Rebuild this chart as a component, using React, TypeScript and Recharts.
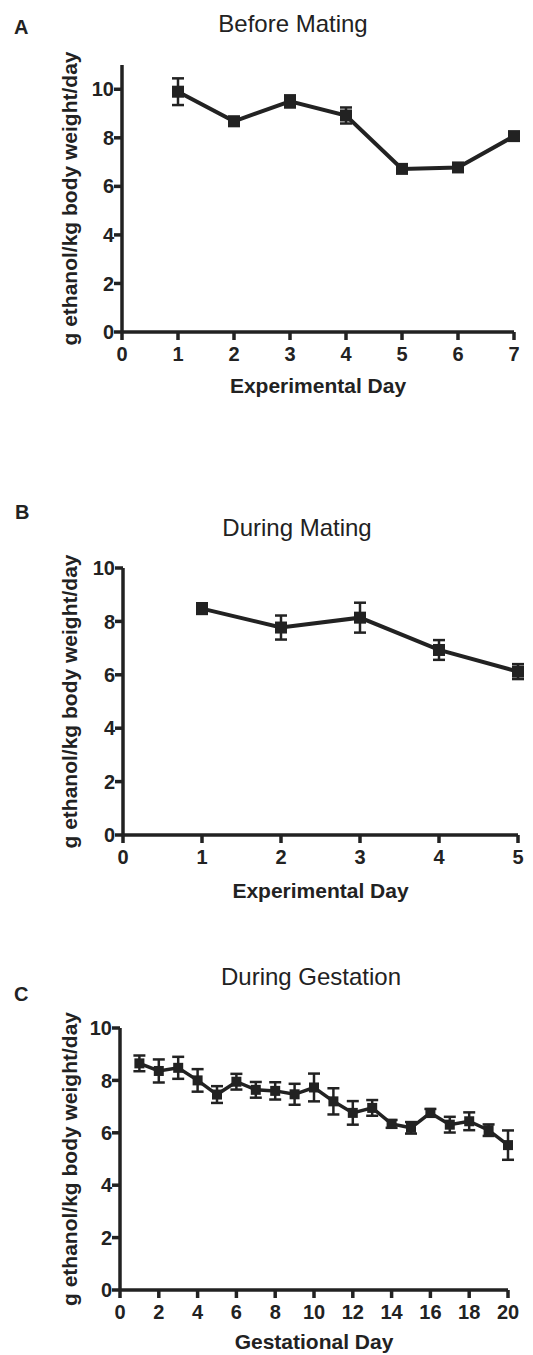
import React from 'react';
import { LineChart, Line, XAxis, YAxis, ErrorBar } from 'recharts';

// Panel A - Before Mating
const daysA = [1, 2, 3, 4, 5, 6, 7];
const meanA = [9.9, 8.68, 9.5, 8.92, 6.72, 6.78, 8.07];
const semA = [0.55, 0.18, 0.25, 0.33, 0.1, 0.1, 0.1];
const ticksA = [0, 1, 2, 3, 4, 5, 6, 7];

// Panel B - During Mating
const daysB = [1, 2, 3, 4, 5];
const meanB = [8.48, 7.77, 8.14, 6.93, 6.12];
const semB = [0.2, 0.45, 0.56, 0.37, 0.28];
const ticksB = [0, 1, 2, 3, 4, 5];

// Panel C - During Gestation
const daysC = [1, 2, 3, 4, 5, 6, 7, 8, 9, 10, 11, 12, 13, 14, 15, 16, 17, 18, 19, 20];
const meanC = [8.65, 8.36, 8.48, 8.0, 7.46, 7.95, 7.64, 7.6, 7.47, 7.73, 7.2, 6.76, 6.95, 6.34, 6.19, 6.76, 6.31, 6.44, 6.1, 5.53];
const semC = [0.3, 0.44, 0.42, 0.43, 0.32, 0.3, 0.3, 0.33, 0.4, 0.53, 0.5, 0.45, 0.3, 0.15, 0.22, 0.15, 0.3, 0.34, 0.22, 0.56];
const ticksC = [0, 2, 4, 6, 8, 10, 12, 14, 16, 18, 20];

const yTicks = [0, 2, 4, 6, 8, 10];
const yLabel = 'g ethanol/kg body weight/day';

const INK = '#222';
const FONT = '"Liberation Sans", Arial, sans-serif';

const toRows = (days: number[], mean: number[], sem: number[]) =>
  days.map((d, i) => ({ day: d, mean: mean[i], sem: sem[i] }));

const squareDot = (size: number) => (props: any) => {
  const { cx, cy, index } = props;
  if (cx == null || cy == null) return <g key={`d-${index}`} />;
  return <rect key={`d-${index}`} x={cx - size / 2} y={cy - size / 2} width={size} height={size} fill={INK} />;
};

type PanelProps = {
  top: number;
  height: number;
  margin: { top: number; right: number; bottom: number; left: number };
  rows: any[];
  xDomain: [number, number];
  xTicks: number[];
  yMax: number;
  xTitle: string;
  xTitleOffset: number;
  yTitleOffset: number;
  xAxisHeight: number;
  dotSize: number;
  lineWidth: number;
};

const Panel = (p: PanelProps) => (
  <div style={{ position: 'absolute', left: 0, top: p.top, width: 533, height: p.height }}>
    <LineChart width={533} height={p.height} data={p.rows} margin={p.margin}>
      <XAxis
        type="number"
        dataKey="day"
        domain={p.xDomain}
        ticks={p.xTicks}
        interval={0}
        height={p.xAxisHeight}
        tickSize={8}
        tickMargin={7}
        axisLine={{ stroke: INK, strokeWidth: 3.5 }}
        tickLine={{ stroke: INK, strokeWidth: 3.5 }}
        tick={{ fill: INK, fontSize: 20, fontWeight: 'bold', fontFamily: FONT }}
        label={{
          value: p.xTitle,
          position: 'insideBottom',
          offset: p.xTitleOffset,
          fill: INK,
          fontSize: 21,
          fontWeight: 'bold',
          fontFamily: FONT,
        }}
      />
      <YAxis
        type="number"
        domain={[0, p.yMax]}
        ticks={yTicks}
        interval={0}
        width={60}
        tickSize={8}
        tickMargin={0}
        axisLine={{ stroke: INK, strokeWidth: 3.5 }}
        tickLine={{ stroke: INK, strokeWidth: 3.5 }}
        tick={{ fill: INK, fontSize: 20, fontWeight: 'bold', fontFamily: FONT }}
        label={{
          value: yLabel,
          angle: -90,
          position: 'insideLeft',
          offset: p.yTitleOffset,
          fill: INK,
          fontSize: 21,
          fontWeight: 'bold',
          fontFamily: FONT,
          style: { textAnchor: 'middle' },
        }}
      />
      <Line
        type="linear"
        dataKey="mean"
        stroke={INK}
        strokeWidth={p.lineWidth}
        dot={squareDot(p.dotSize)}
        activeDot={false}
        isAnimationActive={false}
      >
        <ErrorBar dataKey="sem" width={6} strokeWidth={2.5} stroke={INK} isAnimationActive={false} />
      </Line>
    </LineChart>
  </div>
);

const Caption = ({ text, cx, top }: { text: string; cx: number; top: number }) => (
  <div
    style={{
      position: 'absolute',
      left: cx - 150,
      top,
      width: 300,
      textAlign: 'center',
      fontFamily: FONT,
      fontSize: 24,
      lineHeight: 1,
      color: INK,
    }}
  >
    {text}
  </div>
);

const Letter = ({ text, left, top }: { text: string; left: number; top: number }) => (
  <div
    style={{
      position: 'absolute',
      left,
      top,
      fontFamily: FONT,
      fontSize: 20,
      fontWeight: 'bold',
      lineHeight: 1,
      color: INK,
    }}
  >
    {text}
  </div>
);

export default function App() {
  return (
    <div style={{ position: 'absolute', left: 0, top: 0, width: 533, height: 1355, background: '#fff', overflow: 'hidden' }}>
      <Letter text="A" left={14} top={17} />
      <Caption text="Before Mating" cx={293} top={12} />
      <Panel
        top={0}
        height={420}
        margin={{ top: 65, right: 19, bottom: 18, left: 62 }}
        rows={toRows(daysA, meanA, semA)}
        xDomain={[0, 7]}
        xTicks={ticksA}
        yMax={11}
        xTitle="Experimental Day"
        xTitleOffset={9}
        yTitleOffset={8}
        xAxisHeight={70}
        dotSize={12}
        lineWidth={4}
      />

      <Letter text="B" left={15} top={502} />
      <Caption text="During Mating" cx={297} top={516} />
      <Panel
        top={470}
        height={440}
        margin={{ top: 98, right: 15, bottom: 5, left: 63 }}
        rows={toRows(daysB, meanB, semB)}
        xDomain={[0, 5]}
        xTicks={ticksB}
        yMax={10}
        xTitle="Experimental Day"
        xTitleOffset={7}
        yTitleOffset={7}
        xAxisHeight={70}
        dotSize={12}
        lineWidth={4}
      />

      <Letter text="C" left={14} top={984} />
      <Caption text="During Gestation" cx={311} top={965} />
      <Panel
        top={940}
        height={415}
        margin={{ top: 88, right: 25, bottom: 5, left: 60 }}
        rows={toRows(daysC, meanC, semC)}
        xDomain={[0, 20]}
        xTicks={ticksC}
        yMax={10}
        xTitle="Gestational Day"
        xTitleOffset={1}
        yTitleOffset={10}
        xAxisHeight={60}
        dotSize={10}
        lineWidth={3.5}
      />
    </div>
  );
}
